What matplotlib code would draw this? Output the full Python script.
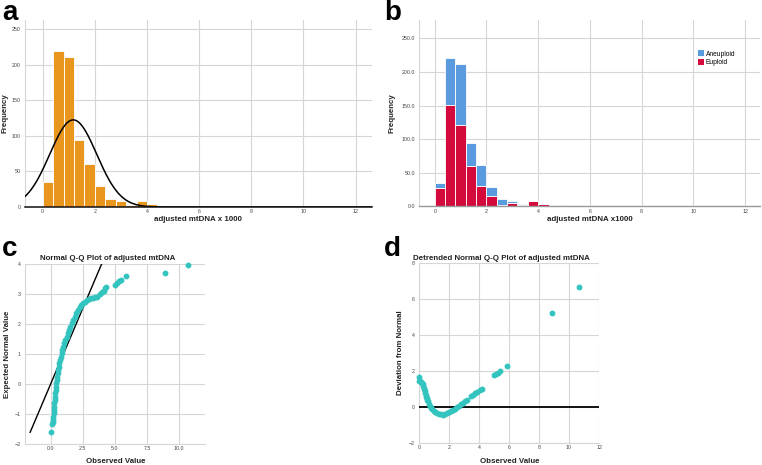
import numpy as np
import matplotlib
matplotlib.use("Agg")
import matplotlib.pyplot as plt
from matplotlib.patches import Patch

plt.rcParams['font.family'] = ['Liberation Sans', 'DejaVu Sans']

# ---------------- data ----------------
bin_width = 0.4
# counts per 0.4-wide bin starting at 0
euploid = [28, 151, 121, 60, 31, 15, 2, 5, 2, 8, 4, 0, 1, 2, 0,
           0, 0, 0, 0, 0, 0, 0, 1, 0, 0, 0, 1]
aneuploid = [7, 69, 90, 34, 30, 14, 9, 3, 1, 0, 0, 0, 1, 0, 1,
             0, 0, 0, 0, 0, 0, 0, 0, 0, 0, 0, 0]
fit_mean = 1.17
fit_sd = 0.90

x_ticks_hist = [0, 2, 4, 6, 8, 10, 12]
y_ticks_a = [0, 50, 100, 150, 200, 250]
y_ticks_b = [0, 50, 100, 150, 200, 250]

# Normal Q-Q plot (observed value, expected normal value)
qq_obs = [0.05, 0.13, 0.16, 0.18, 0.21, 0.23, 0.25, 0.26, 0.29, 0.31,
          0.34, 0.36, 0.39, 0.42, 0.44, 0.47, 0.51, 0.54, 0.58, 0.62,
          0.67, 0.73, 0.78, 0.84, 0.91, 0.98, 1.06, 1.14, 1.23, 1.32,
          1.43, 1.53, 1.63, 1.75, 1.87, 2.00, 2.14, 2.28, 2.38, 2.51,
          2.67, 2.82, 2.98, 3.12, 3.29, 3.45, 3.60, 3.81, 3.96, 4.12,
          4.25, 4.33, 5.00, 5.15, 5.30, 5.45, 5.83, 8.91, 10.67]
qq_exp = [-1.60, -1.33, -1.25, -1.19, -1.08, -0.97, -0.86, -0.74, -0.63, -0.52,
          -0.41, -0.30, -0.19, -0.08, 0.03, 0.14, 0.26, 0.37, 0.48, 0.59,
          0.70, 0.81, 0.92, 1.03, 1.14, 1.26, 1.37, 1.48, 1.59, 1.70,
          1.81, 1.92, 2.03, 2.14, 2.26, 2.37, 2.48, 2.59, 2.64, 2.70,
          2.76, 2.81, 2.86, 2.87, 2.89, 2.90, 2.92, 3.00, 3.07, 3.12,
          3.20, 3.26, 3.30, 3.38, 3.44, 3.48, 3.61, 3.71, 3.99]
qq_line_x = [-1.6, 3.95]
qq_line_y = [-1.6, 4.0]

# Detrended normal Q-Q plot (observed value, deviation from normal)
dt_obs = [0.02, 0.03, 0.08, 0.14, 0.20, 0.24, 0.27, 0.31, 0.34, 0.37,
          0.40, 0.44, 0.48, 0.51, 0.55, 0.58, 0.64, 0.71, 0.80, 0.89,
          0.98, 1.09, 1.20, 1.31, 1.44, 1.58, 1.71, 1.84, 1.98, 2.11,
          2.24, 2.38, 2.51, 2.64, 2.78, 2.91, 3.04, 3.18,
          3.49, 3.62, 3.76, 3.89, 4.04, 4.20,
          5.02, 5.16, 5.29, 5.42, 5.87, 8.89, 10.67]
dt_dev = [1.70, 1.45, 1.44, 1.42, 1.36, 1.30, 1.20, 1.10, 1.00, 0.90,
          0.80, 0.70, 0.60, 0.50, 0.42, 0.33, 0.20, 0.08, -0.03, -0.12,
          -0.20, -0.28, -0.33, -0.37, -0.39, -0.40, -0.37, -0.33, -0.28, -0.22,
          -0.15, -0.07, 0.00, 0.07, 0.17, 0.26, 0.35, 0.43,
          0.63, 0.70, 0.78, 0.85, 0.94, 1.02,
          1.78, 1.85, 1.93, 2.00, 2.28, 5.22, 6.71]

# ---------------- style ----------------
ORANGE = '#E8961E'
BLUE = '#5A9BE0'
RED = '#D40A3C'
TEAL = '#33C4C0'
GRID = '#d6d6d6'
TICKC = '#444444'

W, H = 762, 465
fig = plt.figure(figsize=(W / 100, H / 100), dpi=100)


def rect(l, r, t, b):
    return [l / W, 1 - b / H, (r - l) / W, (b - t) / H]


def ftext(x, y, s, **kw):
    fig.text(x / W, 1 - y / H, s, **kw)


def style_axes(ax):
    ax.set_axisbelow(True)
    ax.grid(True, color=GRID, lw=0.8)
    for sp in ['top', 'right']:
        ax.spines[sp].set_visible(False)
    ax.spines['left'].set_color(GRID)
    ax.spines['left'].set_linewidth(0.8)
    ax.spines['bottom'].set_color(GRID)
    ax.spines['bottom'].set_linewidth(0.8)
    ax.tick_params(axis='y', length=0, labelsize=3.8, labelcolor=TICKC, pad=3)
    ax.tick_params(axis='x', length=0, labelsize=3.8, labelcolor=TICKC, pad=1.5)


total = [e + a for e, a in zip(euploid, aneuploid)]
edges = np.arange(len(total)) * bin_width

LAB = dict(fontsize=5.7, fontweight='bold', color='#222222')

# ---------------- panel a ----------------
axa = fig.add_axes(rect(25, 372, 20, 207))
style_axes(axa)
axa.bar(edges, total, width=bin_width, align='edge', color=ORANGE,
        edgecolor='white', linewidth=0.6, zorder=2)
n_total = sum(total)
xs = np.linspace(-0.7, 12.7, 600)
ys = n_total * bin_width / (fit_sd * np.sqrt(2 * np.pi)) * np.exp(-0.5 * ((xs - fit_mean) / fit_sd) ** 2)
axa.plot(xs, ys, color='black', lw=1.1, zorder=3)
axa.set_xlim(-0.68, 12.63)
axa.set_ylim(0, 263)
axa.set_xticks(x_ticks_hist)
axa.set_yticks(y_ticks_a)
axa.spines['bottom'].set_color('#111111')
axa.spines['bottom'].set_linewidth(1.1)
axa.spines['bottom'].set_zorder(4)
ftext(198.5, 219.5, 'adjusted mtDNA x 1000', ha='center', va='center', **LAB)
ftext(5, 113.5, 'Frequency', ha='center', va='center', rotation=90, **LAB)

# ---------------- panel b ----------------
axb = fig.add_axes(rect(419, 760, 20, 206.5))
style_axes(axb)
axb.bar(edges, euploid, width=bin_width, align='edge', color=RED,
        edgecolor='white', linewidth=0.6, zorder=2)
axb.bar(edges, aneuploid, bottom=euploid, width=bin_width, align='edge', color=BLUE,
        edgecolor='white', linewidth=0.6, zorder=2)
axb.set_xlim(-0.61, 12.58)
axb.set_ylim(0, 277)
axb.set_xticks(x_ticks_hist)
axb.set_yticks(y_ticks_b)
axb.set_yticklabels([f'{v:.1f}' for v in y_ticks_b])
axb.spines['bottom'].set_color('#999999')
axb.spines['bottom'].set_linewidth(1.0)
handles = [Patch(facecolor=BLUE, edgecolor='none', label='Aneuploid'),
           Patch(facecolor=RED, edgecolor='none', label='Euploid')]
axb.legend(handles=handles, loc='upper left', bbox_to_anchor=(698 / W, 1 - 50.5 / H),
           bbox_transform=fig.transFigure, frameon=False, fontsize=4.8,
           handlelength=0.9, handleheight=0.9, handletextpad=0.3,
           labelspacing=0.25, borderpad=0, borderaxespad=0)
ftext(589.5, 219.5, 'adjusted mtDNA x1000', ha='center', va='center', **LAB)
ftext(392, 113, 'Frequency', ha='center', va='center', rotation=90, **LAB)

# ---------------- panel c ----------------
axc = fig.add_axes(rect(25, 205, 264.3, 444.3))
style_axes(axc)
axc.plot(qq_line_x, qq_line_y, color='black', lw=1.0, zorder=3)
axc.plot(qq_obs, qq_exp, linestyle='none', marker='o', markersize=3.2,
         color=TEAL, markeredgecolor=TEAL, zorder=4, clip_on=False)
axc.set_xlim(-2, 12)
axc.set_ylim(-2, 4)
axc.set_xticks([0, 2.5, 5, 7.5, 10])
axc.set_xticklabels(['0.0', '2.5', '5.0', '7.5', '10.0'])
axc.set_yticks([-2, -1, 0, 1, 2, 3, 4])
ftext(108, 258.5, 'Normal Q-Q Plot of adjusted mtDNA', ha='center', va='center', **LAB)
ftext(115.5, 461, 'Observed Value', ha='center', va='center', **LAB)
ftext(8, 354, 'Expected Normal Value', ha='center', va='center', rotation=90, **LAB)

# ---------------- panel d ----------------
axd = fig.add_axes(rect(419, 599, 263.3, 443.3))
style_axes(axd)
axd.axhline(0, color='#111111', lw=1.4, zorder=3)
axd.plot(dt_obs, dt_dev, linestyle='none', marker='o', markersize=3.2,
         color=TEAL, markeredgecolor=TEAL, zorder=4, clip_on=False)
axd.set_xlim(0, 12)
axd.set_ylim(-2, 8)
axd.set_xticks([0, 2, 4, 6, 8, 10, 12])
axd.set_yticks([-2, 0, 2, 4, 6, 8])
ftext(501.7, 258.5, 'Detrended Normal Q-Q Plot of adjusted mtDNA', ha='center', va='center', **LAB)
ftext(509.5, 461, 'Observed Value', ha='center', va='center', **LAB)
ftext(401, 353, 'Deviation from Normal', ha='center', va='center', rotation=90, **LAB)

# ---------------- panel letters ----------------
LET = dict(fontsize=20, fontweight='bold', color='black', va='baseline', ha='left')
ftext(2, 20.5, 'a', **LET)
ftext(384, 20.5, 'b', **LET)
ftext(2, 256.5, 'c', **LET)
ftext(384, 256.5, 'd', **LET)

fig.savefig('out.png', dpi=100)
